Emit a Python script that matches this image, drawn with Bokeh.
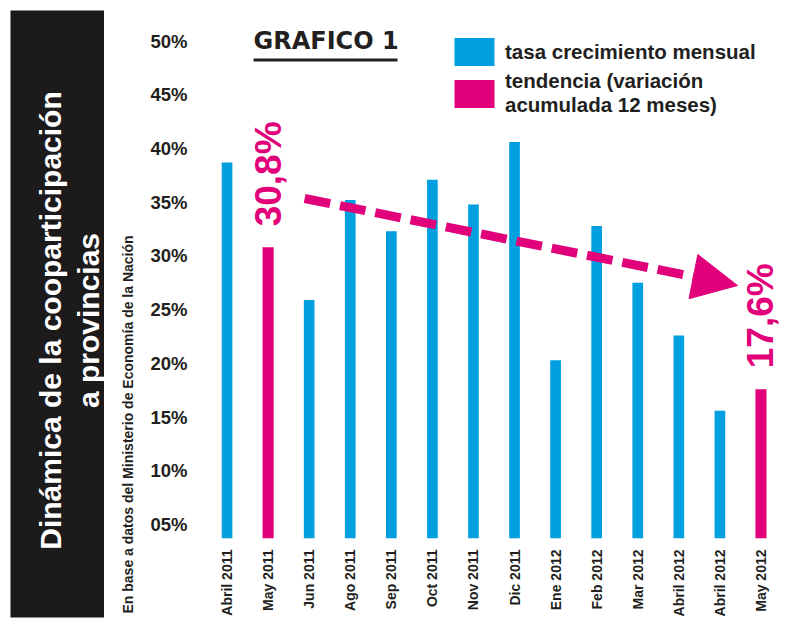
import math
from bokeh.plotting import figure
from bokeh.models import (ColumnDataSource, Range1d, FixedTicker, Label, Legend,
                          LegendItem, Arrow, NormalHead, BoxAnnotation, Title)
from bokeh.layouts import row
from bokeh.embed import file_html
from bokeh.resources import INLINE

# ---------------- data ----------------
months = ["Abril 2011", "May 2011", "Jun 2011", "Ago 2011", "Sep 2011", "Oct 2011",
          "Nov 2011", "Dic 2011", "Ene 2012", "Feb 2012", "Mar 2012", "Abril 2012",
          "Abril 2012", "May 2012"]
tasa_mensual = [38.7, None, 25.9, 35.2, 32.3, 37.1, 34.8, 40.6, 20.3, 32.8, 27.5,
                22.6, 15.6, None]
tendencia = [None, 30.8, None, None, None, None, None, None, None, None, None,
             None, None, 17.6]
y_ticks = [5, 10, 15, 20, 25, 30, 35, 40, 45, 50]
y_tick_labels = ["05%", "10%", "15%", "20%", "25%", "30%", "35%", "40%", "45%", "50%"]

titulo = ["Dinámica de la cooparticipación", "a provincias"]
fuente = "En base a datos del Ministerio de Economía de la Nación"
grafico = "GRAFICO 1"
leyenda = ["tasa crecimiento mensual", "tendencia (variación\nacumulada 12 meses)"]

# ---------------- styles ----------------
BLUE = "#009fe0"
PINK = "#e2007a"
INK = "#231f20"
PANEL = "#1c1a1b"
SANS = "Liberation Sans"

Y0, Y1 = 3.71, 50.98

# ---------------- left black panel ----------------
lf = figure(width=104, height=619, frame_width=94, frame_height=607,
            x_range=Range1d(0, 94), y_range=Range1d(0, 607),
            output_backend="svg", toolbar_location=None, title=None,
            x_axis_location=None, y_axis_location=None,
            min_border_left=10, min_border_top=10, min_border_bottom=2, min_border_right=0)
lf.grid.visible = False
lf.outline_line_color = None
lf.background_fill_color = PANEL
lf.border_fill_color = "white"
for txt, bx in zip(titulo, [40, 78]):
    lf.add_layout(Label(x=bx, y=297, text=txt, angle=math.pi / 2, text_align="center",
                        text_baseline="alphabetic", text_color="white",
                        text_font=SANS, text_font_style="bold", text_font_size="30px"))

# ---------------- main chart ----------------
p = figure(width=689, height=619, x_range=Range1d(-0.5, len(months) - 0.5),
           y_range=Range1d(Y0, Y1), output_backend="svg", toolbar_location=None,
           title=None, min_border_left=102, min_border_right=12, min_border_top=30,
           min_border_bottom=81)
p.outline_line_color = None
p.grid.visible = False

for fig in (lf, p):
    if "frame_align" in fig.properties():
        fig.frame_align = False

# source note, as a title on the left side
p.add_layout(Title(text=fuente, align="left", offset=-75, standoff=24,
                   text_font=SANS, text_font_style="bold", text_font_size="14px",
                   text_color=INK), "left")

blue_src = ColumnDataSource(dict(
    x=[i for i, v in enumerate(tasa_mensual) if v is not None],
    top=[v for v in tasa_mensual if v is not None]))
pink_src = ColumnDataSource(dict(
    x=[i for i, v in enumerate(tendencia) if v is not None],
    top=[v for v in tendencia if v is not None]))

rb = p.vbar(x="x", top="top", bottom=Y0, width=0.26, source=blue_src,
            fill_color=BLUE, line_color=None)
rp = p.vbar(x="x", top="top", bottom=Y0, width=0.27, source=pink_src,
            fill_color=PINK, line_color=None)

# axes
p.yaxis.ticker = FixedTicker(ticks=y_ticks)
p.yaxis.major_label_overrides = dict(zip(y_ticks, y_tick_labels))
p.xaxis.ticker = FixedTicker(ticks=list(range(len(months))))
p.xaxis.major_label_overrides = {i: m for i, m in enumerate(months)}
p.xaxis.major_label_orientation = math.pi / 2
for ax in (p.xaxis, p.yaxis):
    ax.axis_line_color = None
    ax.major_tick_line_color = None
    ax.minor_tick_line_color = None
    ax.major_label_text_color = INK
    ax.major_label_text_font = SANS
    ax.major_label_text_font_style = "bold"
p.yaxis.major_label_text_font_size = "18.5px"
p.yaxis.major_label_standoff = 13
p.xaxis.major_label_text_font_size = "14px"
p.xaxis.major_label_standoff = 5

# value labels for the trend bars
for i, v in enumerate(tendencia):
    if v is None:
        continue
    p.add_layout(Label(x=i, y=v, y_offset=21, text=f"{v:.1f}".replace(".", ",") + "%",
                       angle=math.pi / 2, text_align="left", text_baseline="middle",
                       text_color=PINK, text_font=SANS, text_font_style="bold",
                       text_font_size="37px"))

# trend arrow
ARROW_X0, ARROW_Y0 = 1.89, 35.35
ARROW_X1, ARROW_Y1 = 12.43, 27.25
p.add_layout(Arrow(end=NormalHead(size=45, fill_color=PINK, line_color=PINK),
                   x_start=ARROW_X0, y_start=ARROW_Y0, x_end=ARROW_X1, y_end=ARROW_Y1,
                   line_color=PINK, line_width=9, line_dash="26 10"))

# "GRAFICO 1" heading with underline
p.add_layout(Label(x=47, y=498, x_units="screen", y_units="screen", text=grafico,
                   text_font="DejaVu Sans", text_font_style="bold", text_font_size="24px",
                   text_color=INK, text_baseline="alphabetic"))
p.add_layout(BoxAnnotation(left=47, right=191, bottom=477, top=480,
                           left_units="screen", right_units="screen",
                           bottom_units="screen", top_units="screen",
                           fill_color=INK, fill_alpha=1, line_color=None))

# legend
legend = Legend(items=[LegendItem(label=leyenda[0], renderers=[rb]),
                       LegendItem(label=leyenda[1], renderers=[rp])],
                location=(243, 421), glyph_width=50, glyph_height=35, label_standoff=6,
                spacing=0, padding=0, margin=0, border_line_color=None,
                background_fill_alpha=0, label_text_font=SANS,
                label_text_font_style="bold", label_text_font_size="20.5px",
                label_text_color=INK, label_text_line_height=1.05)
p.add_layout(legend)

open("out.html", "w").write(file_html(row(lf, p), INLINE))
